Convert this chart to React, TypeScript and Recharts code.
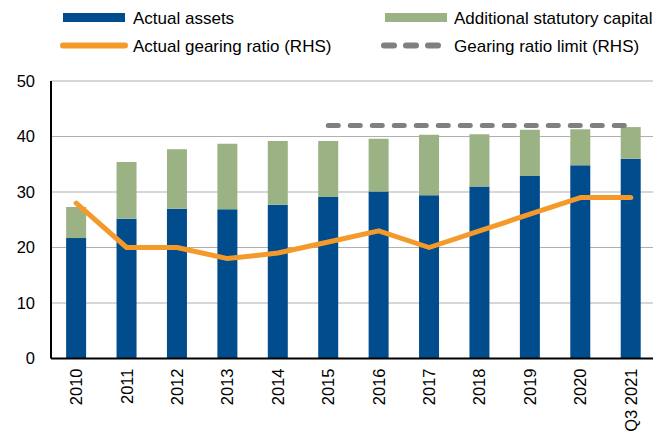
import React from 'react';
import {
  Bar,
  CartesianGrid,
  ComposedChart,
  Line,
  XAxis,
  YAxis,
} from 'recharts';

const years = ['2010', '2011', '2012', '2013', '2014', '2015', '2016', '2017', '2018', '2019', '2020', 'Q3 2021'];
const actualAssets = [21.7, 25.2, 27.0, 26.9, 27.7, 29.1, 30.1, 29.4, 31.0, 32.9, 34.8, 36.0];
const additionalCapital = [5.6, 10.2, 10.7, 11.8, 11.5, 10.1, 9.5, 10.9, 9.4, 8.3, 6.5, 5.7];
const gearingRatio = [28, 20, 20, 18, 19, 21, 23, 20, 23, 26, 29, 29];
const gearingLimit = [null, null, null, null, null, 42, 42, 42, 42, 42, 42, 42];
const yTicks = [0, 10, 20, 30, 40, 50];

const BLUE = '#004C8C';
const GREEN = '#9BB285';
const ORANGE = '#F39A2B';
const GREY = '#808080';
const FONT = '"Liberation Sans", Arial, sans-serif';

const data = years.map((year, i) => ({
  year,
  assets: actualAssets[i],
  extra: additionalCapital[i],
  ratio: gearingRatio[i],
  limit: gearingLimit[i],
}));

// rotated year labels, reading bottom-to-top
function YearTick({ x, y, payload }: any) {
  return (
    <text
      x={x}
      y={y}
      transform={`rotate(-90 ${x} ${y})`}
      textAnchor="end"
      dy="0.36em"
      fontSize={16.5}
      fontFamily={FONT}
      fill="#000"
    >
      {payload.value}
    </text>
  );
}

function LegendBox() {
  const txt = { fontSize: 17, fontFamily: FONT, fill: '#000' };
  return (
    <svg width={653} height={60} style={{ position: 'absolute', left: 0, top: 0 }}>
      <rect x={63} y={13} width={62} height={9} fill={BLUE} />
      <text x={133} y={17.5} dy="0.36em" {...txt}>Actual assets</text>
      <rect x={385} y={13} width={62} height={9} fill={GREEN} />
      <text x={454} y={17.5} dy="0.36em" {...txt}>Additional statutory capital</text>
      <line x1={63} y1={45.5} x2={125} y2={45.5} stroke={ORANGE} strokeWidth={6} strokeLinecap="round" />
      <text x={133} y={45.5} dy="0.36em" {...txt}>Actual gearing ratio (RHS)</text>
      <line x1={384} y1={45.5} x2={440} y2={45.5} stroke={GREY} strokeWidth={6}
        strokeLinecap="round" strokeDasharray="10 12" />
      <text x={454} y={45.5} dy="0.36em" {...txt}>Gearing ratio limit (RHS)</text>
    </svg>
  );
}

export default function App(): React.JSX.Element {
  return (
    <div
      style={{
        position: 'absolute',
        left: 0,
        top: 0,
        width: 653,
        height: 432,
        overflow: 'hidden',
        background: '#fff',
      }}
    >
      <ComposedChart
        width={656}
        height={432}
        data={data}
        margin={{ top: 81, right: 0, bottom: 0, left: 1 }}
        barCategoryGap="30%"
      >
        <CartesianGrid vertical={false} stroke="#B0B0B0" strokeWidth={1.2} />
        <XAxis
          dataKey="year"
          interval={0}
          height={73.5}
          tickLine={false}
          tickSize={6}
          tickMargin={4}
          tick={<YearTick />}
          axisLine={{ stroke: '#000', strokeWidth: 2 }}
        />
        <YAxis
          width={50}
          domain={[0, 50]}
          ticks={yTicks}
          tickLine={false}
          tickSize={6}
          tickMargin={10}
          axisLine={{ stroke: '#000', strokeWidth: 2 }}
          tick={{ fontSize: 16.5, fontFamily: FONT, fill: '#000' }}
        />
        <Bar dataKey="assets" stackId="a" fill={BLUE} isAnimationActive={false} />
        <Bar dataKey="extra" stackId="a" fill={GREEN} isAnimationActive={false} />
        <Line
          dataKey="ratio"
          type="linear"
          stroke={ORANGE}
          strokeWidth={5}
          strokeLinecap="round"
          strokeLinejoin="round"
          dot={false}
          activeDot={false}
          isAnimationActive={false}
        />
        <Line
          dataKey="limit"
          type="linear"
          stroke={GREY}
          strokeWidth={5}
          strokeLinecap="round"
          strokeDasharray="10 12"
          dot={false}
          activeDot={false}
          isAnimationActive={false}
        />
      </ComposedChart>
      <LegendBox />
    </div>
  );
}
